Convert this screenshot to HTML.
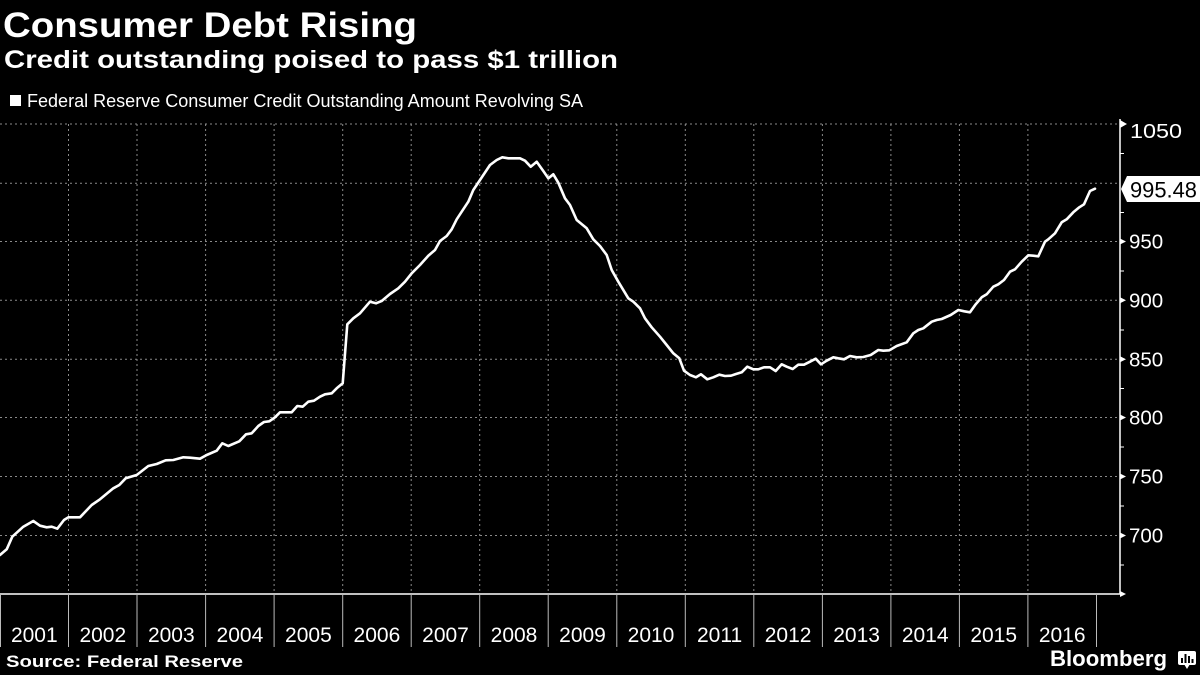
<!DOCTYPE html>
<html>
<head>
<meta charset="utf-8">
<style>
  html,body{margin:0;padding:0;background:#000;}
  svg{display:block;}
  text{font-family:"Liberation Sans",sans-serif;fill:#fff;}
</style>
</head>
<body>
<svg width="1200" height="675" viewBox="0 0 1200 675" xmlns="http://www.w3.org/2000/svg">
  <rect x="0" y="0" width="1200" height="675" fill="#000"/>

  <!-- Titles -->
  <text x="3" y="37" font-size="35" font-weight="bold" textLength="414" lengthAdjust="spacingAndGlyphs">Consumer Debt Rising</text>
  <text x="4" y="68" font-size="25" font-weight="bold" textLength="614" lengthAdjust="spacingAndGlyphs">Credit outstanding poised to pass $1 trillion</text>

  <!-- Legend -->
  <rect x="10" y="95" width="11" height="11" fill="#fff"/>
  <text x="27" y="107" font-size="18" textLength="556" lengthAdjust="spacingAndGlyphs">Federal Reserve Consumer Credit Outstanding Amount Revolving SA</text>

  <!-- Horizontal gridlines -->
  <g stroke="#8a8a8a" stroke-width="1" stroke-dasharray="2,3">
    <line x1="0" y1="124" x2="1117" y2="124"/>
    <line x1="0" y1="183.3" x2="1117" y2="183.3"/>
    <line x1="0" y1="241.5" x2="1117" y2="241.5"/>
    <line x1="0" y1="300.3" x2="1117" y2="300.3"/>
    <line x1="0" y1="359.3" x2="1117" y2="359.3"/>
    <line x1="0" y1="417.5" x2="1117" y2="417.5"/>
    <line x1="0" y1="476.5" x2="1117" y2="476.5"/>
    <line x1="0" y1="535.5" x2="1117" y2="535.5"/>
  </g>
  <!-- Vertical gridlines -->
  <g stroke="#8a8a8a" stroke-width="1" stroke-dasharray="2,3">
    <line x1="68.5" y1="124" x2="68.5" y2="594"/>
    <line x1="137" y1="124" x2="137" y2="594"/>
    <line x1="205.6" y1="124" x2="205.6" y2="594"/>
    <line x1="274.1" y1="124" x2="274.1" y2="594"/>
    <line x1="342.7" y1="124" x2="342.7" y2="594"/>
    <line x1="411.2" y1="124" x2="411.2" y2="594"/>
    <line x1="479.7" y1="124" x2="479.7" y2="594"/>
    <line x1="548.2" y1="124" x2="548.2" y2="594"/>
    <line x1="616.8" y1="124" x2="616.8" y2="594"/>
    <line x1="685.3" y1="124" x2="685.3" y2="594"/>
    <line x1="753.8" y1="124" x2="753.8" y2="594"/>
    <line x1="822.4" y1="124" x2="822.4" y2="594"/>
    <line x1="890.9" y1="124" x2="890.9" y2="594"/>
    <line x1="959.4" y1="124" x2="959.4" y2="594"/>
    <line x1="1027.9" y1="124" x2="1027.9" y2="594"/>
  </g>

  <!-- Axes -->
  <line x1="1120" y1="119" x2="1120" y2="594.5" stroke="#fff" stroke-width="1.5"/>
  <line x1="0" y1="594" x2="1121" y2="594" stroke="#fff" stroke-width="1.5"/>
  <polygon points="1120,591 1126,594 1120,597" fill="#fff"/>

  <!-- Major tick triangles -->
  <g fill="#fff">
    <polygon points="1120,120 1127,124 1120,128"/>
    <polygon points="1120,238.5 1126,241.5 1120,244.5"/>
    <polygon points="1120,297.3 1126,300.3 1120,303.3"/>
    <polygon points="1120,356.3 1126,359.3 1120,362.3"/>
    <polygon points="1120,414.5 1126,417.5 1120,420.5"/>
    <polygon points="1120,473.5 1126,476.5 1120,479.5"/>
    <polygon points="1120,532.5 1126,535.5 1120,538.5"/>
  </g>
  <!-- Minor ticks -->
  <g stroke="#fff" stroke-width="1">
    <line x1="1120" y1="153.5" x2="1124" y2="153.5"/>
    <line x1="1120" y1="212.5" x2="1124" y2="212.5"/>
    <line x1="1120" y1="271" x2="1124" y2="271"/>
    <line x1="1120" y1="330" x2="1124" y2="330"/>
    <line x1="1120" y1="388.5" x2="1124" y2="388.5"/>
    <line x1="1120" y1="447" x2="1124" y2="447"/>
    <line x1="1120" y1="506" x2="1124" y2="506"/>
    <line x1="1120" y1="565" x2="1124" y2="565"/>
  </g>

  <!-- Y labels -->
  <g font-size="20.5">
    <text x="1130" y="138" textLength="52" lengthAdjust="spacingAndGlyphs">1050</text>
    <text x="1129" y="248.5">950</text>
    <text x="1129" y="307.5">900</text>
    <text x="1129" y="366.5">850</text>
    <text x="1129" y="424.5">800</text>
    <text x="1129" y="483.5">750</text>
    <text x="1129" y="542.5">700</text>
  </g>

  <!-- Data line -->
  <polyline fill="none" stroke="#fff" stroke-width="2.6" stroke-linejoin="round" stroke-linecap="round"
    points="0,555 6.7,549.3 12.3,536.7 23.3,526.7 33.3,521 40,525.7 46.7,527.3 51.7,526.7 57.3,528.7 64,520 68.3,517.3 80,517.3 91.7,505 100,499.3 113.3,488.3 119.3,485 125.7,478.3 136.7,475 148.3,466 156.7,464 165.7,460.3 173.3,460 183.3,457.3 190,457.7 200,458.7 206.7,455 216.7,450.7 222.3,443.3 228.3,446 239.3,441.3 246,434.3 251.7,433.3 258.3,426 264,422 269.3,421.3 275,417.3 280,412.3 291.7,412.3 297.3,406 302.7,406.7 308.3,401.7 314,400.7 320,396.7 325,394.3 331.7,393.3 336.7,388.3 342.7,383.3 347.3,324.3 353.3,318.3 360,313.3 370,301.7 376,303.3 381.7,301 390,294 398.3,288.3 405,281.7 411.7,273.3 420,265 428.3,255.7 435,250 440,241 446.7,236 451.7,229.3 456.7,219.3 461.7,211.7 468.3,201.7 473.3,190 480,180 490,165 496.7,160 502.3,157.3 508.3,158.3 520,158.3 525,160.7 530.7,166.7 536.7,161.7 543.3,171 548.3,178.3 553.3,174.3 558.3,182.7 565,198.3 570,205 576.7,220 586.7,228.3 593.3,239.3 600,246 606.7,255 611.7,270 618.3,281.7 628.3,298.3 633.3,301.7 640,308.3 645,318.3 651.7,327.3 660,336.7 666.7,345 673.3,353.3 679.3,358.3 684,370.7 690,375 696,377.3 701,374.3 707.3,379.3 713.3,377.3 719.3,374.7 725,376 731,375.7 736,374 741.7,372.3 747.3,366.7 753.3,369.3 758.3,369.3 764,367.3 770,367.3 775.7,371 781.7,364.3 786.7,366.7 792.7,369 798.3,364.7 804,364.7 810,361.7 815.7,358.7 821,364.3 826.7,360.7 833.3,357.3 838.3,358.3 844,359.3 850,356 856.7,357.3 863.3,357 870.7,355 878.3,350 883.3,350.7 889.3,350.3 896.7,346 906.7,342.3 913.3,333.3 918.3,330 923.3,328.3 931.7,321.7 936.7,320 941.7,319 950.7,315 958.3,310 964.3,311.3 970,312.3 975.7,304.3 981.7,297.3 986.7,294.3 993.3,286.7 998.3,284.3 1004,280 1010,271.7 1015,269.3 1021.7,261.7 1028.3,255.3 1033.3,255.7 1038.3,256.3 1045,241.7 1048.3,239.3 1055,233.3 1061.7,222.3 1066.7,219.3 1073.3,212.3 1079.3,207.3 1084,204.3 1090,191 1095,188.7"/>

  <!-- Value tag -->
  <polygon points="1121,189 1127,176 1200,176 1200,202 1127,202" fill="#fff"/>
  <text x="1130" y="197.5" font-size="22" style="fill:#000" textLength="67" lengthAdjust="spacingAndGlyphs">995.48</text>

  <!-- Year separators -->
  <g stroke="#bbb" stroke-width="1">
    <line x1="0.5" y1="594" x2="0.5" y2="647"/>
    <line x1="68.5" y1="594" x2="68.5" y2="647"/>
    <line x1="137" y1="594" x2="137" y2="647"/>
    <line x1="205.6" y1="594" x2="205.6" y2="647"/>
    <line x1="274.1" y1="594" x2="274.1" y2="647"/>
    <line x1="342.7" y1="594" x2="342.7" y2="647"/>
    <line x1="411.2" y1="594" x2="411.2" y2="647"/>
    <line x1="479.7" y1="594" x2="479.7" y2="647"/>
    <line x1="548.2" y1="594" x2="548.2" y2="647"/>
    <line x1="616.8" y1="594" x2="616.8" y2="647"/>
    <line x1="685.3" y1="594" x2="685.3" y2="647"/>
    <line x1="753.8" y1="594" x2="753.8" y2="647"/>
    <line x1="822.4" y1="594" x2="822.4" y2="647"/>
    <line x1="890.9" y1="594" x2="890.9" y2="647"/>
    <line x1="959.4" y1="594" x2="959.4" y2="647"/>
    <line x1="1027.9" y1="594" x2="1027.9" y2="647"/>
    <line x1="1096.5" y1="594" x2="1096.5" y2="647"/>
  </g>

  <!-- Year labels -->
  <g font-size="21" text-anchor="middle">
    <text x="34.3" y="642">2001</text>
    <text x="102.8" y="642">2002</text>
    <text x="171.3" y="642">2003</text>
    <text x="239.9" y="642">2004</text>
    <text x="308.4" y="642">2005</text>
    <text x="376.9" y="642">2006</text>
    <text x="445.5" y="642">2007</text>
    <text x="514" y="642">2008</text>
    <text x="582.5" y="642">2009</text>
    <text x="651" y="642">2010</text>
    <text x="719.6" y="642">2011</text>
    <text x="788.1" y="642">2012</text>
    <text x="856.6" y="642">2013</text>
    <text x="925.2" y="642">2014</text>
    <text x="993.7" y="642">2015</text>
    <text x="1062.2" y="642">2016</text>
  </g>

  <!-- Footer -->
  <text x="6" y="667" font-size="17" font-weight="bold" textLength="237" lengthAdjust="spacingAndGlyphs">Source: Federal Reserve</text>
  <text x="1050" y="666" font-size="22" font-weight="bold" textLength="117" lengthAdjust="spacingAndGlyphs">Bloomberg</text>
  <!-- Bloomberg icon -->
  <rect x="1178" y="651" width="18" height="14" rx="2" fill="#fff"/>
  <polygon points="1184,664 1190,664 1187,669" fill="#fff"/>
  <g fill="#000">
    <rect x="1181" y="658" width="2" height="5"/>
    <rect x="1184.5" y="654" width="2" height="9"/>
    <rect x="1188" y="656" width="2" height="7"/>
    <rect x="1191.5" y="659" width="2" height="4"/>
  </g>
</svg>
</body>
</html>
